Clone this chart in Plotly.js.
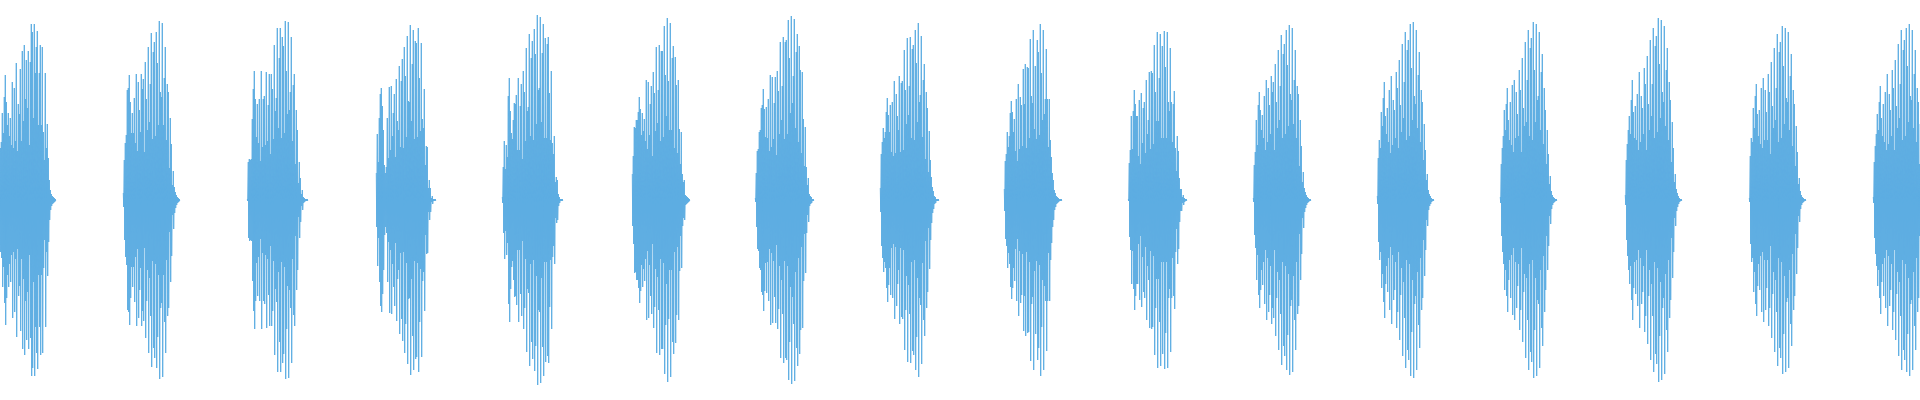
<!DOCTYPE html>
<html>
<head>
<meta charset="utf-8">
<script src="https://cdn.plot.ly/plotly-3.0.1.min.js"></script>
<style>html,body{margin:0;padding:0;background:#ffffff}#chart{width:1920px;height:400px}</style>
</head>
<body>
<div id="chart"></div>
<script>
// Position (in samples) where each burst begins
const burstStarts = [-2, 123, 247, 376, 502, 632, 755, 880, 1004, 1128, 1253, 1377, 1500, 1625, 1749, 1873];

// Peak amplitude of each sample step inside each burst
const burst01 = [30,45,52,58,87,67,103,125,98,75,87,64,82,55,118,52,112,59,137,49,96,86,131,59,149,79,155,101,140,92,149,55,138,176,168,82,176,127,153,169,75,127,155,75,153,68,40,127,52,76,42,20,10,6,4,3,2,1];
const burst02 = [7,40,57,65,110,112,125,98,67,87,67,102,57,126,49,118,90,68,126,111,121,48,138,101,70,153,78,116,167,61,148,158,64,168,137,75,179,108,103,177,75,122,153,60,116,108,32,82,56,15,29,13,8,5,3,2,1];
const burst03 = [1,38,41,40,41,81,111,129,101,63,96,57,101,39,129,53,101,104,55,128,59,95,126,46,126,111,61,155,89,102,172,72,142,172,62,163,154,67,179,129,86,178,90,108,163,59,115,126,36,90,70,17,38,22,6,10,3,2,1,1,1];
const burst04 = [27,66,38,82,106,112,94,70,35,27,33,82,42,113,50,114,64,87,106,43,121,79,70,134,53,119,141,52,153,124,63,164,99,98,175,79,136,170,61,159,157,63,172,122,69,157,81,72,111,35,54,53,12,20,12,2,4,1,1,1];
const burst05 = [3,33,59,31,55,43,104,122,89,67,61,80,97,96,105,50,122,50,94,116,41,129,108,59,152,89,93,166,64,142,159,60,171,146,76,185,110,112,183,78,147,176,62,162,62,156,163,107,60,129,57,46,64,18,23,20,6,3,1,1,1];
const burst06 = [26,44,73,72,80,80,88,103,91,65,87,69,81,59,120,51,118,65,96,114,44,128,107,69,153,77,110,155,59,149,149,63,174,125,84,182,119,70,177,70,142,154,52,143,115,47,120,71,36,68,26,18,20,5,4,3,2,1];
const burst07 = [2,27,49,51,68,70,92,95,111,91,63,93,62,101,49,125,53,123,61,97,123,45,129,109,66,158,80,114,163,61,158,160,66,180,142,87,184,97,124,181,72,148,166,58,154,130,47,128,81,34,73,33,15,22,6,4,3,1,1];
const burst08 = [12,46,58,72,62,68,88,102,85,68,95,48,98,44,119,47,106,84,70,124,48,117,119,50,150,110,76,162,85,114,163,62,151,155,60,170,137,78,177,98,105,164,63,120,136,41,108,92,28,69,40,23,13,9,4,3,1,1,1];
const burst09 = [11,39,46,68,53,64,87,99,88,68,81,49,101,39,116,51,103,95,54,131,96,136,52,133,132,62,161,104,97,170,71,134,61,160,148,65,176,127,80,170,86,101,151,101,53,101,60,43,27,20,10,7,4,3,2,1,1,1];
const burst10 = [1,37,50,84,51,89,110,96,84,84,44,100,36,107,57,92,98,47,120,66,80,128,51,129,127,56,155,108,79,168,79,122,166,62,154,62,169,133,62,168,98,89,152,98,58,96,109,52,29,64,49,22,11,11,3,5,2,1,1];
const burst11 = [2,35,48,80,55,95,108,90,70,85,62,104,50,120,58,112,95,66,124,108,118,50,136,98,72,150,80,114,165,62,146,156,66,170,135,74,175,106,100,172,76,120,150,62,114,106,34,80,54,18,28,12,8,5,3,2,1,1];
const burst12 = [4,42,60,52,88,74,102,118,84,66,92,58,110,47,124,55,100,90,62,128,112,52,140,95,68,156,82,118,168,60,150,160,64,176,132,80,178,104,96,170,72,125,148,58,110,98,40,76,50,20,26,10,6,4,2,1,1];
const burst13 = [3,36,52,64,90,70,96,112,80,60,98,55,115,48,120,62,108,86,64,130,110,48,142,92,74,158,78,120,170,64,152,162,60,178,130,78,176,100,104,168,70,128,146,56,112,90,36,70,46,16,24,9,5,3,2,1,1];
const burst14 = [5,40,56,70,84,66,100,120,88,62,94,60,106,50,128,58,104,92,66,132,116,50,144,96,70,160,84,116,172,62,154,164,68,182,136,82,180,108,98,174,74,130,152,60,118,100,38,78,52,18,26,11,7,4,2,1,1];
const burst15 = [2,44,62,58,92,72,104,116,86,64,90,56,112,52,122,60,110,88,60,126,108,46,138,94,72,152,80,112,166,58,148,158,62,174,134,76,172,102,98,168,70,124,146,54,110,96,34,74,48,16,22,9,5,3,2,1,1];
const burst16 = [3,38,54,66,86,70,98,114,82,64,96,58,108,50,126,56,106,90,64,130,112,50,140,94,72,156,82,116,170,60,150,160,64,172,134,78,176,104,100,170,72,126,150,58,112,98,36,76,50,18,26,10,6,4,2,1,1];

const bursts = [burst01,burst02,burst03,burst04,burst05,burst06,burst07,burst08,burst09,burst10,burst11,burst12,burst13,burst14,burst15,burst16];

// Each step oscillates between +peak and -peak
const xs = [], ys = [];
bursts.forEach((b, k) => {
  b.forEach((a, i) => {
    xs.push(burstStarts[k] + i + 0.3); ys.push(a);
    xs.push(burstStarts[k] + i + 0.7); ys.push(-a);
  });
  xs.push(null); ys.push(null);
});

const trace = {
  x: xs, y: ys, type: 'scatter', mode: 'lines',
  line: {color: '#5DADE2', width: 1},
  connectgaps: false, hoverinfo: 'skip'
};

const layout = {
  width: 1920, height: 400,
  margin: {l: 0, r: 0, t: 0, b: 0, pad: 0},
  paper_bgcolor: '#ffffff', plot_bgcolor: '#ffffff',
  showlegend: false,
  xaxis: {range: [0, 1920], visible: false, showgrid: false, zeroline: false, fixedrange: true},
  yaxis: {range: [-200, 200], visible: false, showgrid: false, zeroline: false, fixedrange: true}
};

Plotly.newPlot('chart', [trace], layout, {staticPlot: true, displayModeBar: false});
</script>
</body>
</html>
